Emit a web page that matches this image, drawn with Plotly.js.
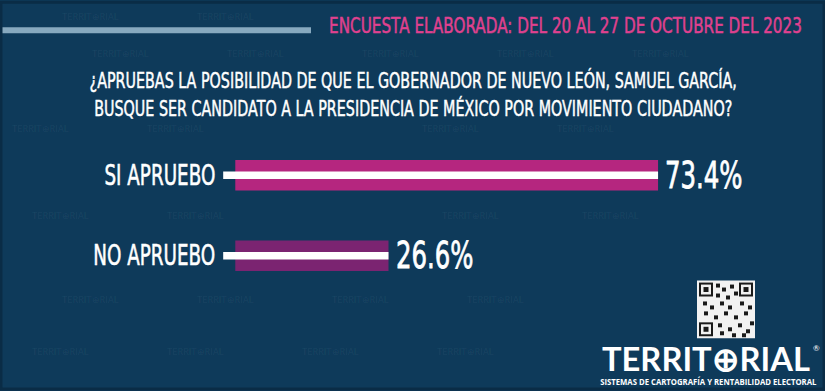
<!DOCTYPE html>
<html><head><meta charset="utf-8">
<script src="https://cdn.plot.ly/plotly-3.0.1.min.js"></script>
<style>html,body{margin:0;padding:0;background:#0e3a5a;}#chart{width:825px;height:391px;}</style>
</head><body><div id="chart"></div>
<script>
// Data
const categories = ["NO APRUEBO", "SI APRUEBO"];
const values = [26.6, 73.4];
const valueLabels = ["26.6%", "73.4%"];
const barColors = ["#7b2471", "#b5267f"];
const headerText = "ENCUESTA ELABORADA: DEL 20 AL 27 DE OCTUBRE DEL 2023";
const questionLines = ["¿APRUEBAS LA POSIBILIDAD DE QUE EL GOBERNADOR DE NUEVO LEÓN, SAMUEL GARCÍA,",
                       "BUSQUE SER CANDIDATO A LA PRESIDENCIA DE MÉXICO POR MOVIMIENTO CIUDADANO?"];
const logoText = "TERRIT⊕RIAL";
const logoSub = "SISTEMAS DE CARTOGRAFÍA Y RENTABILIDAD ELECTORAL";

const W = 825, H = 391;
const L = 218, R = 31, T = 134.5, B = 94.5;
const pw = W - L - R, ph = H - T - B;
const px = x => (x - L) / pw;
const py = y => (H - B - y) / ph;
const FONT = "'DejaVu Sans', sans-serif";

const traces = [
  {
    type: "bar", orientation: "h", y: categories, x: values,
    marker: {color: barColors}, width: 0.38, hoverinfo: "skip"
  }
];
categories.forEach((c, i) => {
  traces.push({
    type: "scatter", mode: "lines", x: [-2.1, values[i]], y: [c, c],
    line: {color: "#ffffff", width: 7.5}, hoverinfo: "skip", showlegend: false, cliponaxis: false
  });
});

const annotations = [];
const fit = []; // [annotation index, target width or scale, origin]
function addAnn(a, fitSpec) {
  annotations.push(Object.assign({showarrow: false}, a));
  if (fitSpec) fit.push(Object.assign({idx: annotations.length - 1}, fitSpec));
}
const shapes = [];
// faint watermarks
const wm = [[90,15],[225,15],[120,52],[255,52],[390,52],[525,52],[660,52],[40,128],[175,128],[450,128],[585,128],
            [60,215],[195,215],[470,215],[610,215],[90,300],[225,300],[360,300],[495,300],[60,352],[195,352],[330,352],[465,352]];
wm.forEach(p => addAnn({xref: "paper", yref: "paper", x: px(p[0]), y: py(p[1]), text: "TERRIT⊕RIAL",
  font: {size: 9, color: "rgba(255,255,255,0.06)", family: "Lato, sans-serif"}, xanchor: "center", yanchor: "middle"}));
// header
shapes.push({type: "rect", xref: "paper", yref: "paper", x0: px(0), x1: px(311), y0: py(32), y1: py(26),
  fillcolor: "#87a9bf", line: {width: 0}, layer: "below"});
addAnn({xref: "paper", yref: "paper", x: px(327), y: py(24), xanchor: "left", yanchor: "middle",
  text: headerText, font: {size: 22, color: "#e0418f", family: FONT}}, {w: 473, o: "l", sw: 0.5});
// question
addAnn({xref: "paper", yref: "paper", x: px(413), y: py(94), xanchor: "center", yanchor: "middle",
  text: questionLines.join("<br>"), align: "center",
  font: {size: 21.5, color: "#ffffff", family: FONT}}, {w: 648, o: "c", sw: 0.5});
// category labels
categories.forEach((c, i) => addAnn({xref: "paper", yref: "y", x: px(217), y: c, xanchor: "right", yanchor: "middle",
  text: c, font: {size: 28, color: "#ffffff", family: FONT}}, {s: 0.655, o: "r", sw: 0.6}));
// value labels
values.forEach((v, i) => addAnn({xref: "x", yref: "y", x: v, y: categories[i], xanchor: "left", yanchor: "middle",
  xshift: 5, text: valueLabels[i], font: {size: 37, color: "#ffffff", family: FONT}}, {s: 0.66, o: "l", sw: 0.8}));
// QR placeholder
shapes.push({type: "rect", xref: "paper", yref: "paper", x0: px(697), x1: px(755), y0: py(339), y1: py(281),
  fillcolor: "#f2f2f2", line: {width: 0}});
const finder = (x, y) => {
  shapes.push({type: "rect", xref: "paper", yref: "paper", x0: px(x), x1: px(x + 14), y0: py(y + 14), y1: py(y),
    fillcolor: "#1a1a1a", line: {width: 0}});
  shapes.push({type: "rect", xref: "paper", yref: "paper", x0: px(x + 2), x1: px(x + 12), y0: py(y + 12), y1: py(y + 2),
    fillcolor: "#f2f2f2", line: {width: 0}});
  shapes.push({type: "rect", xref: "paper", yref: "paper", x0: px(x + 4.5), x1: px(x + 9.5), y0: py(y + 9.5), y1: py(y + 4.5),
    fillcolor: "#1a1a1a", line: {width: 0}});
};
finder(699, 283); finder(739, 283); finder(699, 323);
const blocks = [[716,284],[722,288],[730,285],[716,294],[726,296],[734,292],[703,302],[710,306],[720,302],[728,306],[740,302],
  [748,306],[704,312],[714,316],[724,312],[734,316],[744,312],[718,324],[728,328],[738,324],[746,330],[720,332],[732,334],[742,334],[750,322]];
blocks.forEach(b => shapes.push({type: "rect", xref: "paper", yref: "paper", x0: px(b[0]), x1: px(b[0] + 4), y0: py(b[1] + 4), y1: py(b[1]),
  fillcolor: "#1a1a1a", line: {width: 0}}));
// logo
addAnn({xref: "paper", yref: "paper", x: px(600), y: py(359), xanchor: "left", yanchor: "middle",
  text: "<b>" + logoText + "</b>", font: {size: 33, color: "#ffffff", family: "Lato, 'Open Sans', sans-serif"}}, {w: 208, o: "l"});
addAnn({xref: "paper", yref: "paper", x: px(816), y: py(349), xanchor: "center", yanchor: "middle",
  text: "®", font: {size: 8, color: "#ffffff", family: "Lato, sans-serif"}});
addAnn({xref: "paper", yref: "paper", x: px(598), y: py(383), xanchor: "left", yanchor: "middle",
  text: "<b>" + logoSub + "</b>", font: {size: 8, color: "#ffffff", family: "'Open Sans', sans-serif"}}, {w: 217, o: "l"});
// frame
shapes.push({type: "rect", xref: "paper", yref: "paper", x0: px(1), x1: px(W - 1), y0: py(H - 1), y1: py(1),
  line: {color: "#0a2c46", width: 3}, layer: "below"});

const layout = {
  width: W, height: H,
  margin: {l: L, r: R, t: T, b: B, pad: 0},
  paper_bgcolor: "#0e3a5a", plot_bgcolor: "rgba(0,0,0,0)",
  showlegend: false,
  xaxis: {range: [-3, 97], visible: false, fixedrange: true},
  yaxis: {type: "category", categoryorder: "array", categoryarray: categories, range: [-0.5, 1.5],
    showgrid: false, zeroline: false, showline: false, ticks: "", showticklabels: false, fixedrange: true},
  shapes: shapes, annotations: annotations
};
Plotly.newPlot("chart", traces, layout, {displayModeBar: false, staticPlot: true}).then(gd => {
  fit.forEach(f => {
    const g = gd.querySelector('.annotation[data-index="' + f.idx + '"]');
    if (!g) return;
    const t = g.querySelector('text.annotation-text');
    if (!t) return;
    const bb = t.getBBox();
    const s = f.s ? f.s : f.w / bb.width;
    const ox = f.o === "l" ? bb.x : (f.o === "r" ? bb.x + bb.width : bb.x + bb.width / 2);
    const prev = t.getAttribute("transform") || "";
    t.setAttribute("transform", prev + " translate(" + ox + ",0) scale(" + s + ",1) translate(" + (-ox) + ",0)");
    if (f.sw) {
      t.style.stroke = t.style.fill;
      t.style.strokeWidth = f.sw + "px";
    }
  });
});
</script></body></html>
